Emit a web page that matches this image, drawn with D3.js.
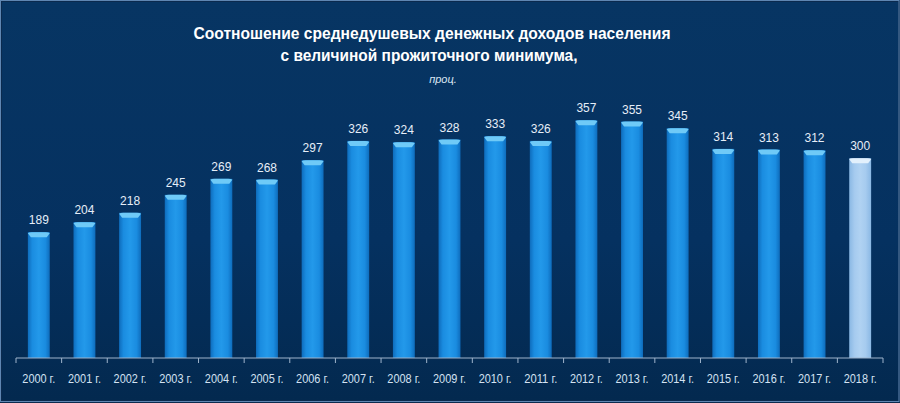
<!DOCTYPE html>
<html><head><meta charset="utf-8">
<script src="https://cdn.jsdelivr.net/npm/d3@7/dist/d3.min.js"></script>
<style>html,body{margin:0;padding:0;background:#0a2448;}svg{display:block;}</style>
</head><body>
<svg id="chart" width="900" height="403"></svg>
<script>
const years = ["2000 г.","2001 г.","2002 г.","2003 г.","2004 г.","2005 г.","2006 г.","2007 г.","2008 г.","2009 г.","2010 г.","2011 г.","2012 г.","2013 г.","2014 г.","2015 г.","2016 г.","2017 г.","2018 г."];
const values = [189,204,218,245,269,268,297,326,324,328,333,326,357,355,345,314,313,312,300];
const titleLines = ["Соотношение среднедушевых денежных доходов населения","с величиной прожиточного минимума,"];
const unitLabel = "проц.";

const svg = d3.select("#chart");
const W = 900, H = 403;
const defs = svg.append("defs");

const bg = defs.append("linearGradient").attr("id","bg").attr("x1",0).attr("y1",0).attr("x2",0).attr("y2",1);
bg.append("stop").attr("offset","0%").attr("stop-color","#073563");
bg.append("stop").attr("offset","60%").attr("stop-color","#053160");
bg.append("stop").attr("offset","100%").attr("stop-color","#03294f");

const barG = defs.append("linearGradient").attr("id","barG").attr("x1",0).attr("y1",0).attr("x2",1).attr("y2",0);
barG.append("stop").attr("offset","0%").attr("stop-color","#0e6cbc");
barG.append("stop").attr("offset","20%").attr("stop-color","#1a8ce0");
barG.append("stop").attr("offset","50%").attr("stop-color","#2399ea");
barG.append("stop").attr("offset","80%").attr("stop-color","#1a8ce0");
barG.append("stop").attr("offset","100%").attr("stop-color","#0e6cbc");

const barL = defs.append("linearGradient").attr("id","barL").attr("x1",0).attr("y1",0).attr("x2",1).attr("y2",0);
barL.append("stop").attr("offset","0%").attr("stop-color","#8ab8e4");
barL.append("stop").attr("offset","25%").attr("stop-color","#a6cbef");
barL.append("stop").attr("offset","50%").attr("stop-color","#b0d2f2");
barL.append("stop").attr("offset","75%").attr("stop-color","#a6cbef");
barL.append("stop").attr("offset","100%").attr("stop-color","#8ab8e4");

svg.append("rect").attr("x",0).attr("y",0).attr("width",W).attr("height",H).attr("fill","#0b2a4e");
svg.append("rect").attr("x",2).attr("y",2).attr("width",W-4).attr("height",H-5).attr("fill","url(#bg)");
svg.append("rect").attr("x",0.5).attr("y",0.5).attr("width",W-1.5).attr("height",H-2).attr("fill","none").attr("stroke","#5f86b2").attr("stroke-width",1);

// Title
svg.append("text").attr("x",432).attr("y",39).attr("text-anchor","middle")
  .attr("font-family","Liberation Sans, Arial, sans-serif").attr("font-weight","bold").attr("font-size",17)
  .attr("fill","#ffffff").attr("textLength",477).attr("lengthAdjust","spacingAndGlyphs").text(titleLines[0]);
svg.append("text").attr("x",429).attr("y",61).attr("text-anchor","middle")
  .attr("font-family","Liberation Sans, Arial, sans-serif").attr("font-weight","bold").attr("font-size",17)
  .attr("fill","#ffffff").attr("textLength",297).attr("lengthAdjust","spacingAndGlyphs").text(titleLines[1]);
svg.append("text").attr("x",443).attr("y",83).attr("text-anchor","middle")
  .attr("font-family","Liberation Sans, Arial, sans-serif").attr("font-style","italic").attr("font-size",11)
  .attr("fill","#dbe6f2").text(unitLabel);

const x = d3.scaleBand().domain(years).range([16,883]).paddingInner(0.52).paddingOuter(0.26);
const y = d3.scaleLinear().domain([0,400]).range([358,91.6]);

const g = svg.append("g");
const bars = g.selectAll("g.bar").data(values).join("g").attr("class","bar");
bars.append("rect")
  .attr("x",(d,i)=>x(years[i])).attr("y",d=>y(d))
  .attr("width",x.bandwidth()).attr("height",d=>y(0)-y(d))
  .attr("fill",(d,i)=>i===values.length-1?"url(#barL)":"url(#barG)");
// top cap
bars.append("path")
  .attr("d",(d,i)=>{
    const x0=x(years[i]), w=x.bandwidth(), t=y(d);
    return `M${x0},${t+1} Q${x0+1},${t} ${x0+4},${t} L${x0+w-4},${t} Q${x0+w-1},${t} ${x0+w},${t+1} L${x0+w-3},${t+5} L${x0+3},${t+5} Z`;
  })
  .attr("fill",(d,i)=>i===values.length-1?"#e2f0fc":"#6fcaf7");
bars.append("text")
  .attr("x",(d,i)=>x(years[i])+x.bandwidth()/2).attr("y",d=>y(d)-8)
  .attr("text-anchor","middle").attr("font-family","Liberation Sans, Arial, sans-serif")
  .attr("font-size",13).attr("fill","#e6eef8").attr("textLength",20).attr("lengthAdjust","spacingAndGlyphs").text(d=>d);

// axis
const axis = d3.axisBottom(x).tickSize(0).tickPadding(16);
const ag = svg.append("g").attr("transform","translate(0,358)").call(axis);
ag.select(".domain").attr("stroke","#9fb4cc").attr("d","M16,0H883");
ag.selectAll(".tick text").attr("font-family","Liberation Sans, Arial, sans-serif").attr("font-size",13)
  .attr("fill","#d4e2f2").attr("dy","0.71em").attr("textLength",33).attr("lengthAdjust","spacingAndGlyphs");
const step = x.step();
const bounds = d3.range(years.length+1).map(i=>16+i*step);
ag.selectAll("line.sep").data(bounds).join("line").attr("class","sep")
  .attr("x1",d=>d).attr("x2",d=>d).attr("y1",0).attr("y2",5).attr("stroke","#9fb4cc");
</script>
</body></html>
